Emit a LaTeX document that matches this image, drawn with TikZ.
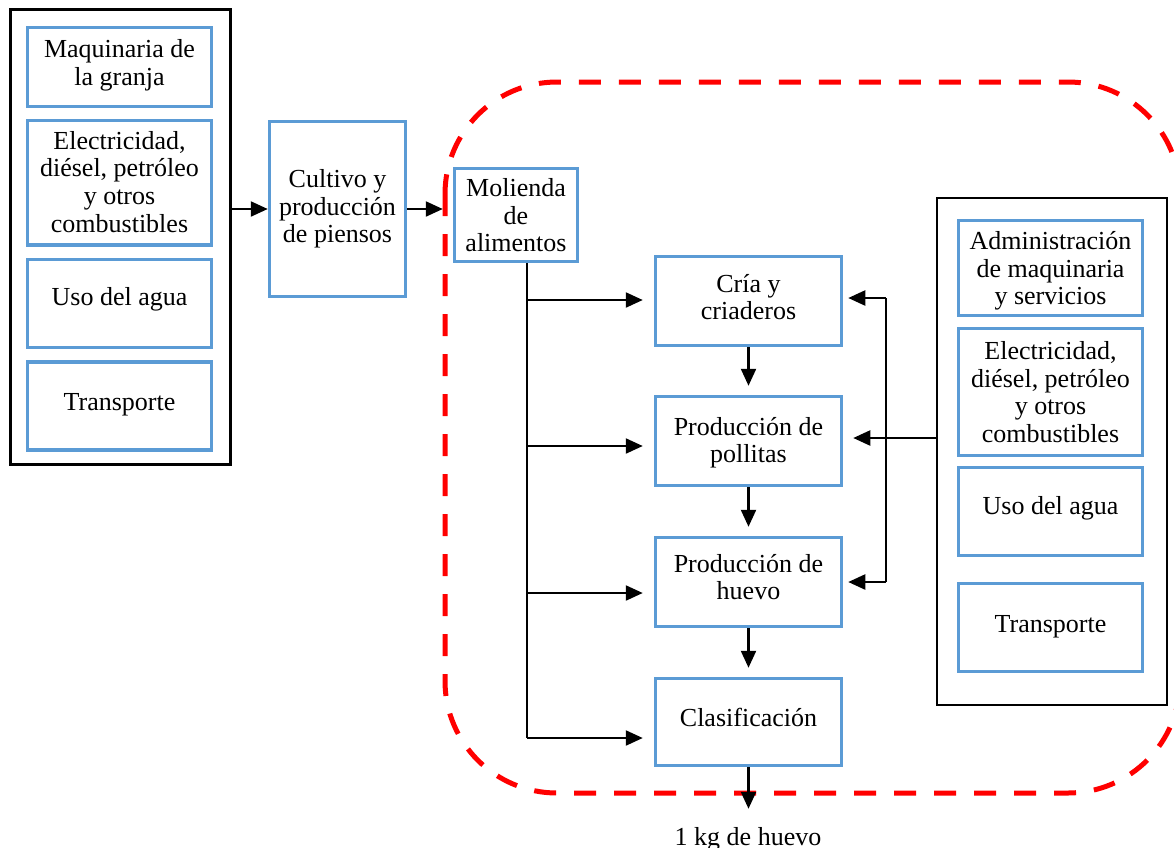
\documentclass[tikz,border=0pt]{standalone}
\usepackage{fontspec}
\setmainfont{Liberation Serif}
\usetikzlibrary{arrows.meta,calc}
\definecolor{boxblue}{RGB}{91,155,213}
\definecolor{limitred}{RGB}{255,0,0}
\begin{document}
\begin{tikzpicture}[x=1pt,y=-1pt,
  every node/.style={font=\fontsize{26}{27.7}\selectfont},
  stage/.style={draw=boxblue, line width=3.5pt, align=center, inner sep=0pt},
  sidebox/.style={stage, minimum width=184pt},
  tdep/.style={text depth=#1},
  group/.style={draw=black, line width=2.5pt, inner sep=0pt},
  arr/.style={line width=2.3pt, -{Triangle[length=17pt,width=15pt]}},
  feed/.style={line width=1.4pt},
  limit/.style={draw=limitred, line width=5pt, dash pattern=on 22pt off 18pt}]
\useasboundingbox (0,0) rectangle (1174,847);

% system boundary
\draw[limit, rounded corners=112pt] (445,82) rectangle (1180,793);

% upstream inputs
\node[group, minimum width=220pt, minimum height=455pt] (lo) at (120.5,237) {};
\node[sidebox, minimum height=79pt, tdep=9pt] (l1) at (119.5,67) {Maquinaria de\\la granja};
\node[sidebox, minimum height=124.5pt, tdep=2pt] (l2) at (119.5,182.75) {Electricidad,\\diésel, petróleo\\y otros\\combustibles};
\node[sidebox, minimum height=88pt, tdep=13.5pt] (l3) at (119.5,303.5) {Uso del agua};
\node[sidebox, minimum height=88pt, tdep=9pt] (l4) at (119.5,406) {Transporte};

% feed chain
\node[stage, minimum width=136pt, minimum height=175pt] (cul) at (337.5,209) {Cultivo y\\producción\\de piensos};
\node[stage, minimum width=123pt, minimum height=93pt, tdep=0pt] (mol) at (516,215) {Molienda\\de\\alimentos};

% production stages
\node[stage, minimum width=186pt, minimum height=89pt, tdep=8pt] (cria) at (748.5,301) {Cría y\\criaderos};
\node[stage, minimum width=186pt, minimum height=89pt, tdep=2pt] (poll) at (748.5,441) {Producción de\\pollitas};
\node[stage, minimum width=186pt, minimum height=89pt, tdep=10pt] (hue) at (748.5,582) {Producción de\\huevo};
\node[stage, minimum width=186pt, minimum height=87pt, tdep=10pt] (clas) at (748.5,722) {Clasificación};
\node[anchor=base, inner sep=0pt] (out) at (748,845) {1 kg de huevo};

% on-farm inputs
\node[group, minimum width=230pt, minimum height=507pt] (ro) at (1052,451.5) {};
\node[sidebox, minimum height=95pt, tdep=0pt] (r1) at (1050.5,268) {Administración\\de maquinaria\\y servicios};
\node[sidebox, minimum height=127pt] (r2) at (1050.5,392) {Electricidad,\\diésel, petróleo\\y otros\\combustibles};
\node[sidebox, minimum height=88pt, tdep=11.5pt] (r3) at (1050.5,511.5) {Uso del agua};
\node[sidebox, minimum height=88pt, tdep=7pt] (r4) at (1050.5,627.5) {Transporte};

% upstream flow
\draw[arr] (lo.east |- cul.west) -- (cul.west);
\draw[arr, shorten >=10pt] (cul.east) -- (cul.east -| mol.west);

% feed distribution
\coordinate (trunk) at ($(mol.south)+(11,0)$);
\coordinate (t1) at ($(cria.west)+(0,-1)$);
\coordinate (t2) at ($(poll.west)+(0,5)$);
\coordinate (t3) at ($(hue.west)+(0,11)$);
\coordinate (t4) at ($(clas.west)+(0,16)$);
\draw[feed] (trunk) -- (trunk |- t4);
\foreach \t in {t1,t2,t3,t4}
  \draw[arr, shorten >=11pt] (trunk |- \t) -- (\t);

% main chain
\draw[arr, shorten >=9pt] (cria.south) -- (poll.north);
\draw[arr, shorten >=9pt] (poll.south) -- (hue.north);
\draw[arr, shorten >=9pt] (hue.south) -- (clas.north);
\draw[arr, shorten >=18pt] (clas.south) -- (clas.south |- out.north);

% on-farm supply
\coordinate (pin) at ($(poll.east)+(0,-3)$);
\coordinate (cin) at ($(cria.east)+(0,-3)$);
\coordinate (hin) at (hue.east);
\coordinate (fb) at (886,0);
\draw[arr, shorten >=10pt] (ro.west |- pin) -- (pin);
\draw[feed] (fb |- cin) -- (fb |- hin);
\draw[arr, shorten >=5pt] (fb |- cin) -- (cin);
\draw[arr, shorten >=5pt] (fb |- hin) -- (hin);
\end{tikzpicture}
\end{document}
